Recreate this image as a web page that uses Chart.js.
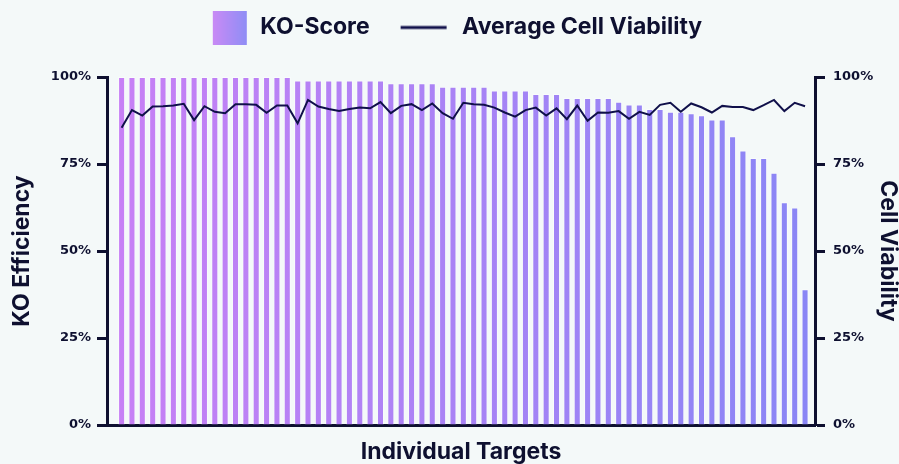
<!DOCTYPE html>
<html><head><meta charset="utf-8">
<script src="https://cdn.jsdelivr.net/npm/chart.js@4"></script>
<style>html,body{margin:0;padding:0;background:#f4f9f9;}#wrap{width:899px;height:464px;}</style>
</head><body><div id="wrap"><canvas id="c" width="899" height="464"></canvas></div>
<script>
// KO-Score per target (%), sorted descending
const koScore = [
  100,100,100,100,100,100,100,100,100,100,100,100,100,100,100,100,100,
  99.0,99.0,99.0,99.0,99.0,99.0,99.0,99.0,99.0,
  98.2,98.2,98.2,98.2,98.2,
  97.2,97.2,97.2,97.2,97.2,
  96.1,96.1,96.1,96.1,
  95.1,95.1,95.1,
  94.0,94.0,94.0,94.0,94.0,
  92.9,92.1,92.1,90.8,90.8,90.0,90.0,89.6,89.0,87.8,87.8,
  83.0,78.9,76.7,76.7,72.5,64.0,62.5,39.0
];
// Average cell viability per target (%)
const cellViability = [
  85.4,90.5,88.9,91.5,91.6,91.8,92.3,87.6,91.6,90.0,89.6,92.2,92.2,92.0,89.7,91.8,91.8,
  86.7,93.4,91.5,90.8,90.2,90.8,91.2,91.0,92.8,89.6,91.7,92.2,90.5,92.4,89.6,88.0,
  92.6,92.2,92.0,91.2,89.8,88.6,90.5,91.2,88.9,91.0,87.9,91.8,87.4,89.8,89.7,90.2,
  88.0,90.0,89.1,92.0,92.6,90.0,92.4,91.3,89.8,91.7,91.4,91.4,90.5,91.9,93.4,90.2,
  92.6,91.6
];
const targets = Array.from({length: koScore.length}, (_, i) => 'Target ' + (i + 1));
const yTicks = [0, 25, 50, 75, 100];
const seriesNames = ['KO-Score', 'Average Cell Viability'];
const axisTitles = {x: 'Individual Targets', left: 'KO Efficiency', right: 'Cell Viability'};

const INK = '#0e1030';
const C_START = '#c880f5';
const C_END = '#8986f5';
const TITLE_FONT = {family: 'Inter', size: 23, weight: 'bold', lineHeight: 1.1};
const TICK_FONT = {family: 'DejaVu Sans', size: 13, weight: 'bold'};

// legend glyphs
const BOXW = 52, GLYPH_H = 34;
function swatchCanvas() {
  const cv = document.createElement('canvas'); cv.width = BOXW; cv.height = GLYPH_H;
  const g = cv.getContext('2d');
  const gr = g.createLinearGradient(16, 0, 50, 0);
  gr.addColorStop(0, '#c98af5'); gr.addColorStop(1, '#8f8ef5');
  g.fillStyle = gr; g.fillRect(16, 0, 34, 34);
  return cv;
}
function lineCanvas() {
  const cv = document.createElement('canvas'); cv.width = BOXW; cv.height = GLYPH_H;
  const g = cv.getContext('2d');
  g.fillStyle = '#10104a'; g.fillRect(2, 15.5, 46, 3);
  return cv;
}
const swatch = swatchCanvas(), lineGlyph = lineCanvas();

let gradCache = null;
function barGradient(context) {
  const chart = context.chart; const area = chart.chartArea;
  if (!area) return C_START;
  if (!gradCache || gradCache.l !== area.left || gradCache.r !== area.right) {
    const g = chart.ctx.createLinearGradient(area.left, 0, area.right, 0);
    g.addColorStop(0, C_START); g.addColorStop(1, C_END);
    gradCache = {l: area.left, r: area.right, g};
  }
  return gradCache.g;
}

const PAD_TOP = -13;
const legendHeight = {
  id: 'legendHeight',
  beforeInit(chart) {
    const lg = chart.legend;
    const fit = lg.fit;
    lg.fit = function () { fit.call(this); this.height = 77 - PAD_TOP; };
  }
};

function yAxis(position, title, pad) {
  const left = position === 'left';
  return {
    type: 'linear', position, min: 0, max: 100,
    afterBuildTicks(scale) { scale.ticks = yTicks.map(v => ({value: v})); },
    afterFit(scale) { scale.width = left ? 107 : 84; },
    ticks: {color: INK, font: TICK_FONT, padding: pad, callback: v => v + '%'},
    grid: {drawOnChartArea: false, drawTicks: true, tickLength: 10, tickWidth: 3, tickColor: INK},
    border: {display: true, width: 3, color: INK},
    title: {display: true, text: title, color: INK,
            font: Object.assign({}, TITLE_FONT, {lineHeight: left ? 1.1 : 1.0}),
            padding: {top: left ? 9 : 0, bottom: 0}}
  };
}

new Chart(document.getElementById('c'), {
  data: {
    labels: targets,
    datasets: [
      {type: 'bar', label: seriesNames[0], data: koScore.map((v, i) => ({x: i, y: v})),
       yAxisID: 'y', backgroundColor: barGradient, borderColor: 'rgba(255,255,255,0.45)',
       borderWidth: 1, categoryPercentage: 1, barPercentage: 0.68, order: 1},
      {type: 'line', label: seriesNames[1], data: cellViability.map((v, i) => ({x: i, y: v})),
       yAxisID: 'y1', borderColor: '#10104a', borderWidth: 2, pointRadius: 0, tension: 0,
       fill: false, order: 0}
    ]
  },
  options: {
    responsive: false, animation: false, devicePixelRatio: 1,
    layout: {padding: {top: PAD_TOP, left: 0, right: 0, bottom: 0}},
    plugins: {
      legend: {
        position: 'top',
        labels: {
          usePointStyle: true, pointStyleWidth: BOXW, padding: 29,
          color: INK, font: {family: 'Inter', size: 23, weight: 'bold'},
          generateLabels() {
            return [
              {text: seriesNames[0], pointStyle: swatch, datasetIndex: 0, hidden: false, lineWidth: 0, fontColor: INK},
              {text: seriesNames[1], pointStyle: lineGlyph, datasetIndex: 1, hidden: false, lineWidth: 0, fontColor: INK}
            ];
          }
        }
      },
      tooltip: {callbacks: {title: items => targets[items[0].parsed.x]}}
    },
    scales: {
      x: {
        type: 'linear', position: 'bottom', min: -1.41, max: 66.96, offset: false,
        afterFit(scale) { scale.height = 39; },
        ticks: {display: false},
        grid: {display: false, offset: false},
        border: {display: true, width: 3, color: INK},
        title: {display: true, text: axisTitles.x, color: INK, font: TITLE_FONT, padding: {top: 0, bottom: -1}}
      },
      y: yAxis('left', axisTitles.left, 6),
      y1: yAxis('right', axisTitles.right, 8)
    }
  },
  plugins: [legendHeight]
});
</script></body></html>
